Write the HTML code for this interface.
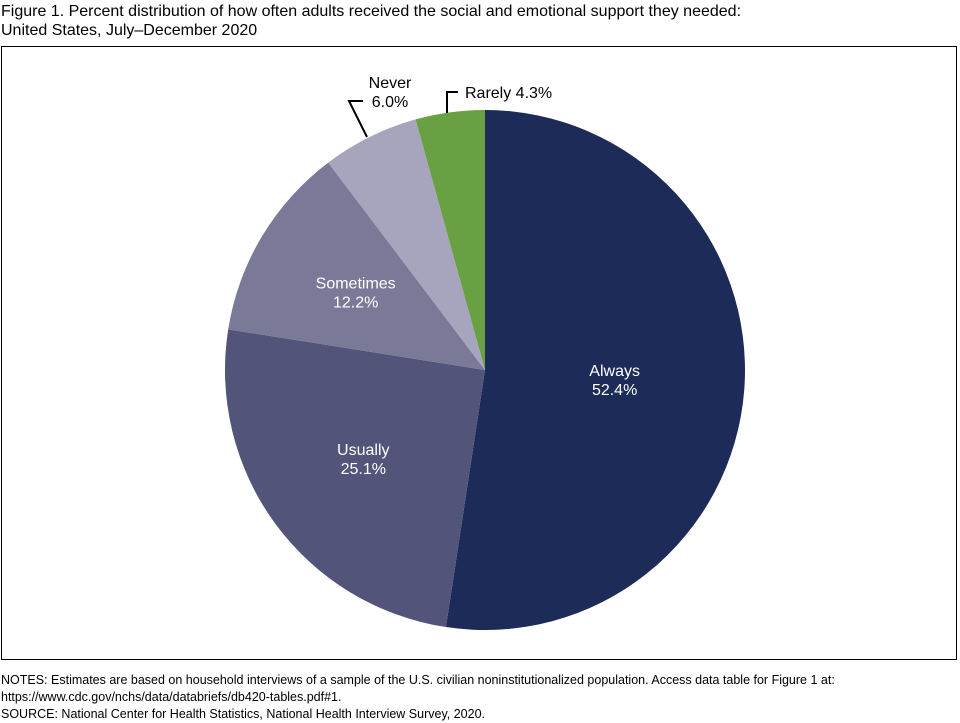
<!DOCTYPE html>
<html><head><meta charset="utf-8"><style>
body{margin:0;width:960px;height:720px;background:#fff;font-family:"Liberation Sans",Arial,sans-serif;position:relative;overflow:hidden}
.t{position:absolute;left:1px;font-size:16px;line-height:19px;color:#000}
.n{position:absolute;left:1px;font-size:12.5px;line-height:17px;color:#000}
</style></head><body>
<div class="t" style="top:2px">Figure 1. Percent distribution of how often adults received the social and emotional support they needed:<br>United States, July–December 2020</div>
<svg width="960" height="720" style="position:absolute;left:0;top:0">
<rect x="1.5" y="46.5" width="955" height="613" fill="none" stroke="#000" stroke-width="1"/>
<g id="pie"></g>
<g font-size="16" fill="#000" font-family="Liberation Sans,Arial,sans-serif">
<text x="390" y="88" text-anchor="middle">Never</text>
<text x="390" y="107" text-anchor="middle">6.0%</text>
<text x="465" y="98">Rarely 4.3%</text>
</g>
<polyline points="363,101 349,101 367,137" fill="none" stroke="#000" stroke-width="2"/>
<polyline points="458,92 447,92 447,113" fill="none" stroke="#000" stroke-width="2"/>
</svg>
<div class="n" style="top:672px">NOTES: Estimates are based on household interviews of a sample of the U.S. civilian noninstitutionalized population. Access data table for Figure 1 at:<br>https://www.cdc.gov/nchs/data/databriefs/db420-tables.pdf#1.<br>SOURCE: National Center for Health Statistics, National Health Interview Survey, 2020.</div>
<script>
const categories=["Always","Usually","Sometimes","Never","Rarely"];
const values=[52.4,25.1,12.2,6.0,4.3];
const colors=["#1c2b57","#535479","#7a7a98","#a7a5bd","#6aa044"];
const inside=[true,true,true,false,false];
const cx=485,cy=370,r=260;
const g=document.getElementById('pie');
const NS="http://www.w3.org/2000/svg";
const total=values.reduce((a,b)=>a+b,0);
function pt(a,rr){return [cx+rr*Math.sin(a),cy-rr*Math.cos(a)];}
let acc=0;
values.forEach((v,i)=>{
 const a0=acc/total*2*Math.PI;acc+=v;const a1=acc/total*2*Math.PI;
 const p0=pt(a0,r),p1=pt(a1,r);
 const path=document.createElementNS(NS,'path');
 path.setAttribute('d',`M${cx},${cy}L${p0[0]},${p0[1]}A${r},${r} 0 ${a1-a0>Math.PI?1:0} 1 ${p1[0]},${p1[1]}Z`);
 path.setAttribute('fill',colors[i]);
 
 
 g.appendChild(path);
 if(inside[i]){
  const am=(a0+a1)/2;const rr=i==0?r*0.5:r*0.58;const p=pt(am,rr);
  [categories[i],v.toFixed(1)+'%'].forEach((s,k)=>{
   const t=document.createElementNS(NS,'text');
   t.setAttribute('x',p[0]);t.setAttribute('y',p[1]-4+k*19);
   t.setAttribute('text-anchor','middle');t.setAttribute('fill','#fff');
   t.setAttribute('font-size','16');t.setAttribute('font-family','Liberation Sans,Arial,sans-serif');
   t.textContent=s;
   
   
   g.appendChild(t);
  });
 }
});
</script>
</body></html>
